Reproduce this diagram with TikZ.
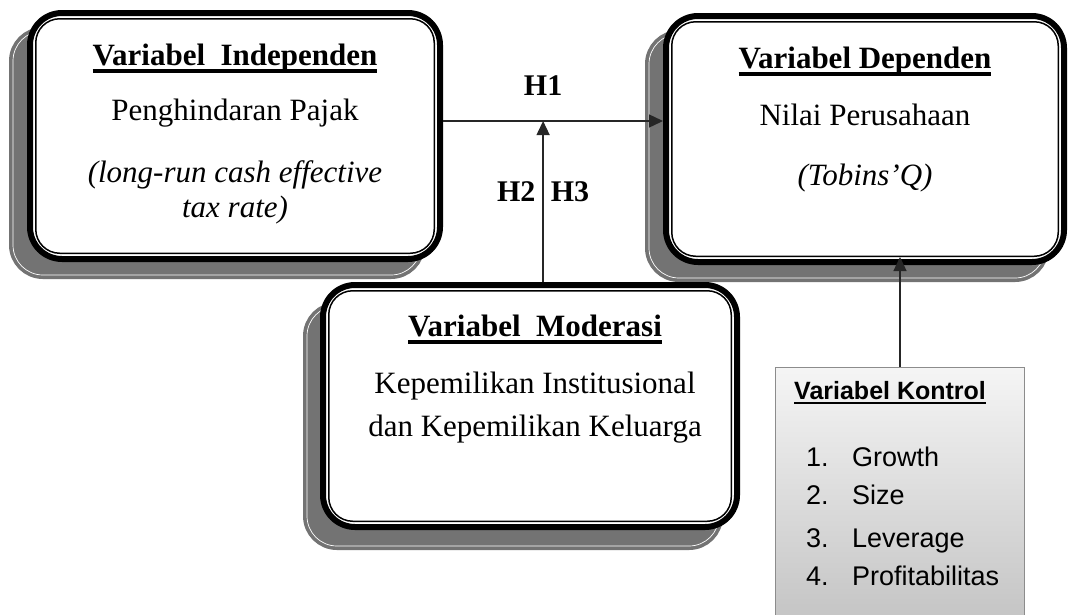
\documentclass[tikz,border=0pt]{standalone}
\usepackage{fontspec}
\setmainfont{Liberation Serif}
\newfontfamily\ctrlfont{Liberation Sans}
\usetikzlibrary{arrows.meta,positioning,fit,backgrounds}
\newsavebox\ulsave
\newcommand{\ulbox}[3]{\sbox\ulsave{#3}\rlap{\rule[-#1]{\wd\ulsave}{#2}}\usebox\ulsave}
\newcommand{\boxtitle}[1]{{\fontsize{31}{35}\selectfont\bfseries\ulbox{7pt}{3.5pt}{#1}}}
\newcommand{\ctrlitem}[2]{\hspace*{12pt}\makebox[46pt][l]{#1}#2}

\begin{document}
\begin{tikzpicture}[x=1pt,y=-1pt,>={Triangle[length=14pt,width=13pt]},
		varbox/.style={rectangle,draw=black,line width=6pt,fill=white,rounded corners=32pt,inner sep=0pt},
		innerline/.style={rectangle,draw=black,line width=1.5pt,rounded corners=24pt,inner sep=-8.75pt},
		shadowbox/.style={rectangle,draw=white,line width=0.7pt,rounded corners=30pt,inner sep=-4pt,
			preaction={draw=black!55,fill=black!55,line width=8pt}},
		ctrlbox/.style={rectangle,draw=black!45,line width=1pt,top color=gray!8,bottom color=gray!50},
		boxtext/.style={align=center,inner sep=0pt,font=\fontsize{31}{35}\selectfont},
		ctrltext/.style={align=left,inner sep=0pt,font=\ctrlfont\fontsize{27}{38}\selectfont},
		hlabel/.style={inner sep=7pt,font=\fontsize{30}{35}\selectfont\bfseries},
		conn/.style={->,line width=1.4pt,draw=black!85}]
		\useasboundingbox (0,0) rectangle (1068,614);
		
		% boxes
		\node[varbox,minimum width=410pt,minimum height=246pt] (indep)   at (235,136) {};
		\node[varbox,minimum width=398pt,minimum height=246pt] (dep)     at (865,139) {};
		\node[varbox,minimum width=414pt,minimum height=242pt] (moder)   at (530,406) {};
		\node[ctrlbox,minimum width=249pt,minimum height=280pt] (kontrol) at (900,507) {};
		
		\node[innerline,fit=(indep)] (indepin) {};
		\node[innerline,fit=(dep)]   (depin)   {};
		\node[innerline,fit=(moder)] (moderin) {};
		
		\begin{scope}[on background layer]
		\node[shadowbox,fit=(indep),xshift=-18pt,yshift=-17pt] (indepsh) {};
		\node[shadowbox,fit=(dep),xshift=-18pt,yshift=-17pt]   (depsh)   {};
		\node[shadowbox,fit=(moder),xshift=-17pt,yshift=-20pt] (modersh) {};
		\end{scope}
		
		% texts
		\node[boxtext,anchor=north] (indeptxt) at ([yshift=-34pt]indep.north)
			{\boxtitle{Variabel\ \ Independen}\\[20pt] Penghindaran Pajak\\[27pt]
			 \textit{(long-run cash effective}\\ \textit{tax rate)}};
		\node[boxtext,anchor=north] (deptxt) at ([yshift=-34pt]dep.north)
			{\boxtitle{Variabel Dependen}\\[22pt] Nilai Perusahaan\\[25pt] \textit{(Tobins’Q)}};
		\node[boxtext,anchor=north] (modertxt) at ([xshift=5pt,yshift=-33pt]moder.north)
			{\boxtitle{Variabel\ \ Moderasi}\\[22pt] Kepemilikan Institusional\\[8pt] dan Kepemilikan Keluarga};
		\node[ctrltext,anchor=north west] (ctrltxt) at ([xshift=19pt,yshift=-15pt]kontrol.north west)
			{{\fontsize{25}{38}\selectfont\bfseries\ulbox{4pt}{2pt}{Variabel Kontrol}}\\[29pt]
			 \ctrlitem{1.}{Growth}\\ \ctrlitem{2.}{Size}\\[5pt] \ctrlitem{3.}{Leverage}\\ \ctrlitem{4.}{Profitabilitas}};
		
		% connectors
		\draw[conn] ([yshift=15pt]indep.east) -- coordinate[pos=0.455] (meet) ([yshift=18pt]dep.west);
		\draw[conn] (moder.north -| meet) -- node[hlabel,left,pos=0.56] (h2) {H2}
			node[hlabel,right,pos=0.56] (h3) {H3} (meet);
		\node[hlabel,above=18pt of meet] (h1) {H1};
		\draw[conn,shorten >=-8pt] (kontrol.north) -- (kontrol.north |- dep.south);
\end{tikzpicture}
\end{document}
